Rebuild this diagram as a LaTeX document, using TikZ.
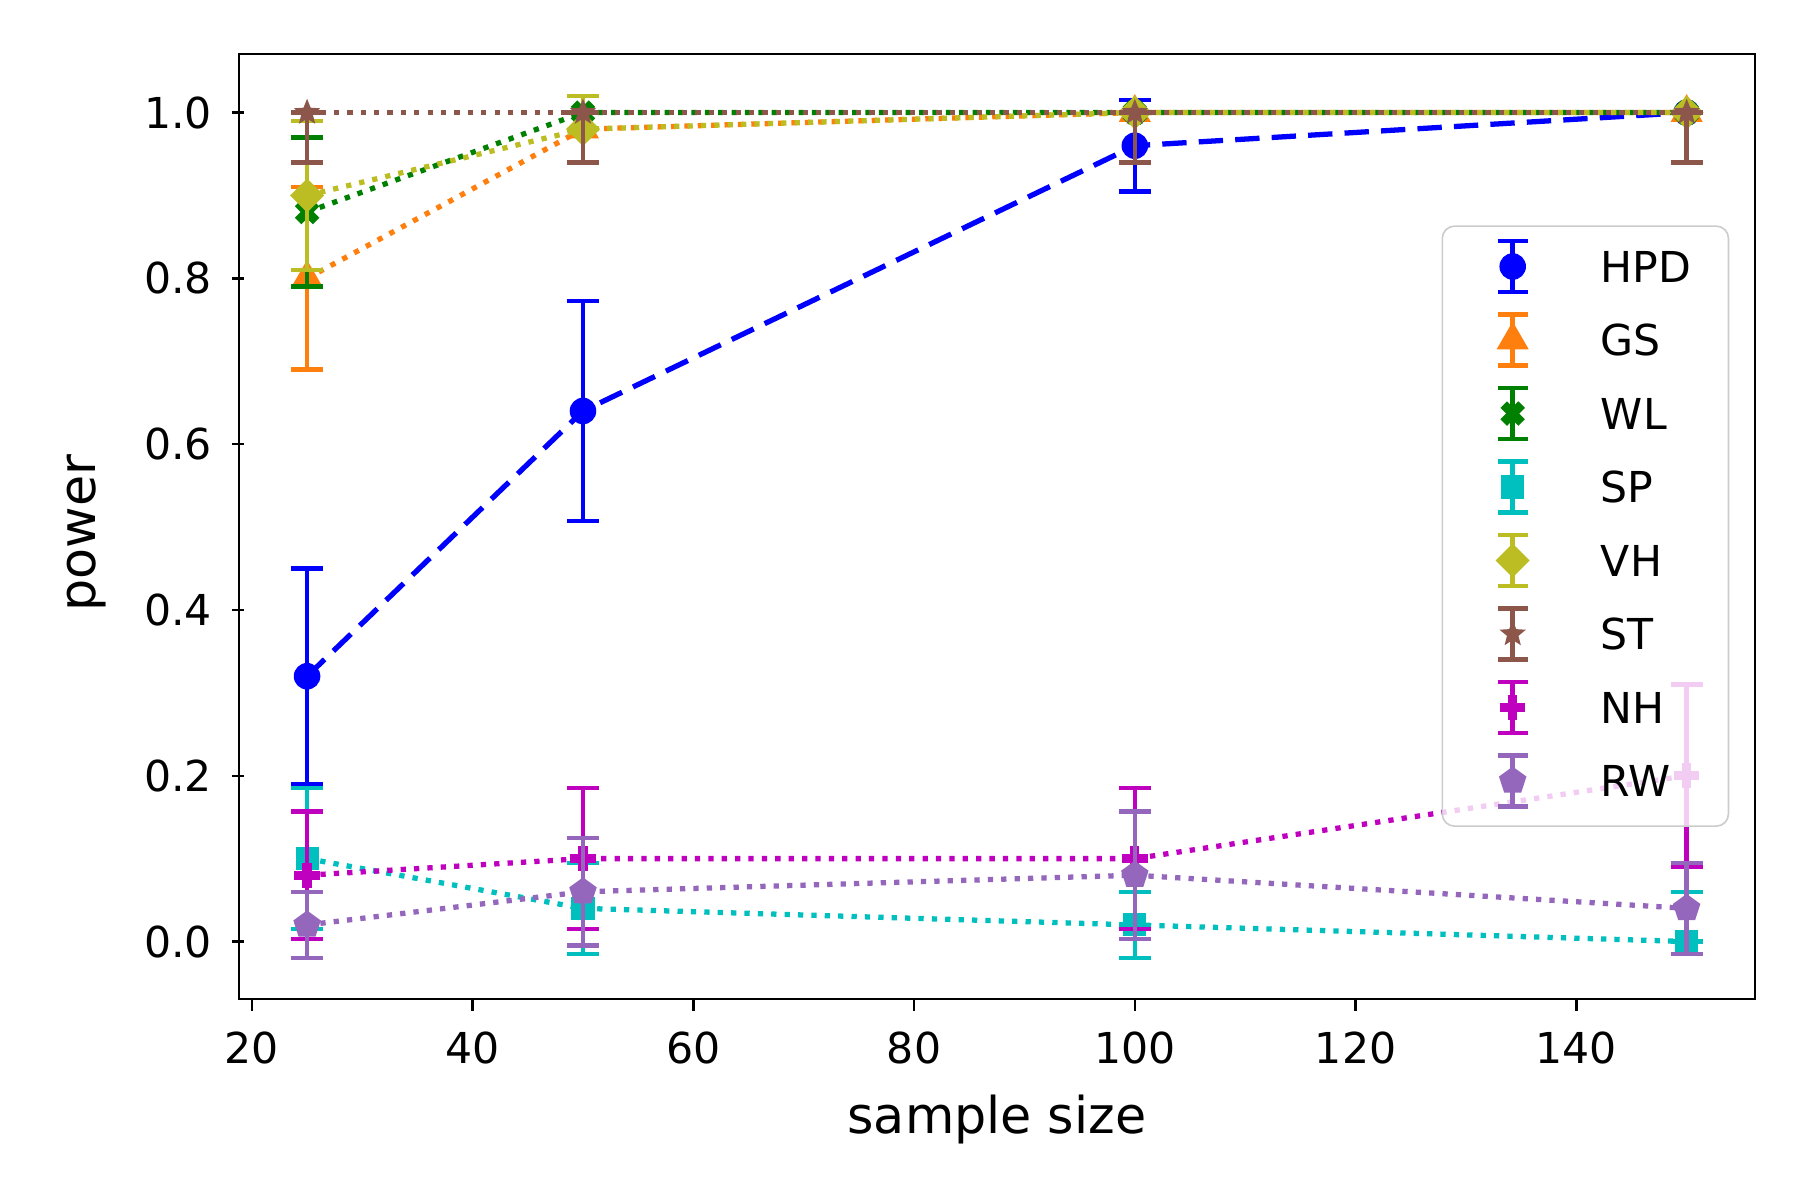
\documentclass[tikz,border=0pt]{standalone}
\usepackage{fontspec}
\setmainfont{DejaVu Sans}
\usetikzlibrary{shapes.geometric}
\definecolor{cOrange}{HTML}{FF7F0E}
\definecolor{cGreen}{HTML}{008000}
\definecolor{cCyan}{HTML}{00BFBF}
\definecolor{cOlive}{HTML}{BCBD22}
\definecolor{cBrown}{HTML}{8C564B}
\definecolor{cMag}{HTML}{BF00BF}
\definecolor{cPurple}{HTML}{9467BD}
\tikzset{
  ebar/.style={line width=1.1pt},
  mcirc/.style={circle,fill,inner sep=0pt,minimum size=0.23cm},
  mtri/.style={regular polygon,regular polygon sides=3,fill,inner sep=0pt,minimum size=0.32cm},
  msq/.style={rectangle,fill,inner sep=0pt,minimum size=0.2cm},
  mdia/.style={diamond,fill,inner sep=0pt,minimum width=0.3cm,minimum height=0.3cm},
  mstar/.style={star,star points=5,star point ratio=2.3,fill,inner sep=0pt,minimum size=0.24cm},
  mpent/.style={regular polygon,regular polygon sides=5,fill,inner sep=0pt,minimum size=0.25cm},
  mnone/.style={inner sep=0pt},
  mplus/.pic={\fill (-0.11cm,-0.04cm) rectangle (0.11cm,0.04cm);
              \fill (-0.04cm,-0.11cm) rectangle (0.04cm,0.11cm);},
  tick/.style={font=\fontsize{10.5}{12}\selectfont},
  leg/.style={font=\fontsize{10.5}{12}\selectfont,anchor=west}
}
\newcommand\errs[2]{% colour, list s/p/lower/upper
  \foreach \s/\p/\l/\u in {#2} {
    \draw[ebar,#1] (\s,{\p-\l}) -- (\s,{\p+\u});
    \draw[ebar,#1] ([xshift=-0.14cm]\s,{\p-\l}) -- ++(0.28cm,0);
    \draw[ebar,#1] ([xshift=-0.14cm]\s,{\p+\u}) -- ++(0.28cm,0);
  }}
\begin{document}
\begin{tikzpicture}[x=0.01cm,y=0.01cm]
\useasboundingbox (0,0) rectangle (1560,1040);
% axes frame
\draw[line width=0.6pt] (207,174) rectangle (1521,993);
\begin{scope}[shift={(27,224)},x=0.0956cm,y=7.18cm]
% ticks
\foreach \t in {20,40,...,140} {
  \draw[line width=0.6pt] (\t,-0.0697) -- ++(0,-0.1cm);
  \node[tick,anchor=north] at ([yshift=-0.16cm]\t,-0.0697) {\t};
}
\foreach \t in {0.0,0.2,0.4,0.6,0.8,1.0} {
  \draw[line width=0.6pt] (19.26,\t) -- ++(-0.1cm,0);
  \node[tick,anchor=east] at ([xshift=-0.15cm]19.26,\t) {\t};
}
% HPD
\errs{blue}{25/0.32/0.13/0.13,50/0.64/0.133/0.133,100/0.96/0.055/0.055,150/1.0/0/0}
\draw[blue,line width=1.3pt,dash pattern=on 6pt off 3pt] (25,0.32) -- (50,0.64) -- (100,0.96) -- (150,1.0);
\foreach \s/\p in {25/0.32,50/0.64,100/0.96,150/1.0} \node[mcirc,blue] at (\s,\p) {};
% GS
\errs{cOrange}{25/0.80/0.11/0.11,50/0.98/0.04/0.04,100/1.0/0/0,150/1.0/0/0}
\draw[cOrange,line width=1.3pt,dotted] (25,0.80) -- (50,0.98) -- (100,1.0) -- (150,1.0);
\foreach \s/\p in {25/0.80,50/0.98,100/1.0,150/1.0} \node[mtri,cOrange] at (\s,\p) {};
% WL
\errs{cGreen}{25/0.88/0.09/0.09,50/1.0/0/0,100/1.0/0/0,150/1.0/0/0}
\draw[cGreen,line width=1.3pt,dotted] (25,0.88) -- (50,1.0) -- (100,1.0) -- (150,1.0);
\foreach \s/\p in {25/0.88,50/1.0,100/1.0,150/1.0} \pic[cGreen,rotate=45] at (\s,\p) {mplus};
% SP
\errs{cCyan}{25/0.10/0.085/0.085,50/0.04/0.055/0.055,100/0.02/0.04/0.04,150/0.0/0/0.06}
\draw[cCyan,line width=1.3pt,dotted] (25,0.10) -- (50,0.04) -- (100,0.02) -- (150,0.0);
\foreach \s/\p in {25/0.10,50/0.04,100/0.02,150/0.0} \node[msq,cCyan] at (\s,\p) {};
% VH
\errs{cOlive}{25/0.90/0.09/0.09,50/0.98/0.04/0.04,100/1.0/0/0,150/1.0/0/0}
\draw[cOlive,line width=1.3pt,dotted] (25,0.90) -- (50,0.98) -- (100,1.0) -- (150,1.0);
\foreach \s/\p in {25/0.90,50/0.98,100/1.0,150/1.0} \node[mdia,cOlive] at (\s,\p) {};
% ST
\errs{cBrown}{25/1.0/0.06/0,50/1.0/0.06/0,100/1.0/0.06/0,150/1.0/0.06/0}
\draw[cBrown,line width=1.3pt,dotted] (25,1.0) -- (50,1.0) -- (100,1.0) -- (150,1.0);
\foreach \s/\p in {25/1.0,50/1.0,100/1.0,150/1.0} \node[mstar,cBrown] at (\s,\p) {};
% NH
\errs{cMag}{25/0.08/0.077/0.077,50/0.10/0.085/0.085,100/0.10/0.085/0.085,150/0.20/0.11/0.11}
\draw[cMag,line width=1.3pt,dotted] (25,0.08) -- (50,0.10) -- (100,0.10) -- (150,0.20);
\foreach \s/\p in {25/0.08,50/0.10,100/0.10,150/0.20} \pic[cMag] at (\s,\p) {mplus};
% RW
\errs{cPurple}{25/0.02/0.04/0.04,50/0.06/0.065/0.065,100/0.08/0.077/0.077,150/0.04/0.055/0.055}
\draw[cPurple,line width=1.3pt,dotted] (25,0.02) -- (50,0.06) -- (100,0.08) -- (150,0.04);
\foreach \s/\p in {25/0.02,50/0.06,100/0.08,150/0.04} \node[mpent,cPurple] at (\s,\p) {};
\end{scope}
% axis labels
\node[font=\fontsize{12.5}{14}\selectfont] (xlab) at (864,70) {sample size};
\node[font=\fontsize{12.5}{14}\selectfont,rotate=90] (ylab) at (75,578) {power};
% legend
\draw[rounded corners=3pt,draw=black!20,fill=white,fill opacity=0.8] (1250,324) rectangle (1498,844);
\foreach \n/\c/\m [count=\i from 0] in {HPD/blue/mcirc,GS/cOrange/mtri,WL/cGreen/mnone,SP/cCyan/msq,VH/cOlive/mdia,ST/cBrown/mstar,NH/cMag/mnone,RW/cPurple/mpent} {
  \coordinate (k\i) at (1311,{809-63.7*\i});
  \draw[ebar,\c] ([yshift=-0.22cm]k\i) -- ([yshift=0.22cm]k\i);
  \draw[ebar,\c] ([xshift=-0.13cm,yshift=-0.22cm]k\i) -- ++(0.26cm,0);
  \draw[ebar,\c] ([xshift=-0.13cm,yshift=0.22cm]k\i) -- ++(0.26cm,0);
  \node[\m,\c] at (k\i) {};
  \node[leg] (l\i) at (1375,{809-63.7*\i}) {\n};
}
\pic[cGreen,rotate=45] at (k2) {mplus};
\pic[cMag] at (k6) {mplus};
\end{tikzpicture}
\end{document}
